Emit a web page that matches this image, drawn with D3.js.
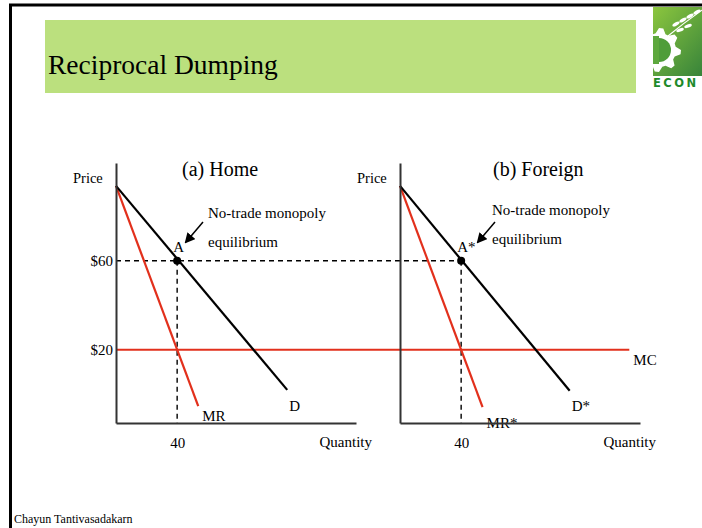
<!DOCTYPE html>
<html>
<head>
<meta charset="utf-8">
<script src="https://cdn.jsdelivr.net/npm/d3@7"></script>
<style>
  body { margin: 0; background: #fff; }
  svg text { font-family: "Liberation Serif", "Times New Roman", serif; fill: #000; }
</style>
</head>
<body>
<div id="chart"></div>
<script>
// values
const priceTicks = [60, 20];
const quantityTicks = [40];
const monopolyQ = 40;
const monopolyP = 60;
const mcPrice = 20;
const mcEndQ = 150; // MC runs on into the foreign panel
const demandHome = [[0, 93.7], [112, 1.9]];
const mrHome = [[0, 93.7], [53.8, -5.4]];
const demandForeign = [[0, 93.7], [111, 1.5]];
const mrForeign = [[0, 93.7], [54, -5.9]];
const panelTitles = ["(a) Home", "(b) Foreign"];

const width = 702;
const height = 528;
const red = "#e2301c";

const svg = d3.select("#chart")
  .append("svg")
  .attr("width", width)
  .attr("height", height);

// frame
svg.append("rect")
  .attr("x", 10.5).attr("y", 5)
  .attr("width", 800).attr("height", 600)
  .attr("fill", "none")
  .attr("stroke", "#000")
  .attr("stroke-width", 3);

// title bar
svg.append("rect")
  .attr("x", 45).attr("y", 20)
  .attr("width", 591).attr("height", 73)
  .attr("fill", "#bbe07e");

svg.append("text")
  .attr("x", 48).attr("y", 74)
  .attr("font-size", 27.5)
  .text("Reciprocal Dumping");

// logo
const defs = svg.append("defs");
const grad = defs.append("linearGradient")
  .attr("id", "logoGrad")
  .attr("x1", "0").attr("y1", "0").attr("x2", "1").attr("y2", "1");
grad.append("stop").attr("offset", "0%").attr("stop-color", "#8cc63e");
grad.append("stop").attr("offset", "100%").attr("stop-color", "#2f7d3a");
defs.append("clipPath").attr("id", "logoClip")
  .append("rect").attr("x", 653).attr("y", 7).attr("width", 60).attr("height", 69);

const logo = svg.append("g").attr("clip-path", "url(#logoClip)");
logo.append("rect")
  .attr("x", 653).attr("y", 7).attr("width", 60).attr("height", 69)
  .attr("fill", "url(#logoGrad)");

const gearCx = 659, gearCy = 50;
const teeth = 8;
const gearPts = [];
for (let i = 0; i < teeth * 4; i++) {
  const a = (i / (teeth * 4)) * 2 * Math.PI;
  const r = (i % 4 < 2) ? 22 : 17;
  gearPts.push([gearCx + r * Math.cos(a), gearCy + r * Math.sin(a)]);
}
logo.append("path")
  .attr("d", d3.line().curve(d3.curveLinearClosed)(gearPts))
  .attr("fill", "#fff");
logo.append("circle")
  .attr("cx", gearCx).attr("cy", gearCy).attr("r", 12)
  .attr("fill", "#4f9d3a");
logo.append("rect")
  .attr("x", 653).attr("y", 36).attr("width", 6).attr("height", 28)
  .attr("fill", "#5da83d");

const leaves = [[676, 24, -30], [683, 20, -30], [690, 16, -30], [697, 12, -30], [680, 30, -20], [688, 26, -20]];
logo.selectAll(".leaf")
  .data(leaves)
  .join("ellipse")
  .attr("class", "leaf")
  .attr("cx", d => d[0]).attr("cy", d => d[1])
  .attr("rx", 4).attr("ry", 1.6)
  .attr("transform", d => `rotate(${d[2]},${d[0]},${d[1]})`)
  .attr("fill", "#fff");
logo.append("path")
  .attr("d", "M668,36 Q685,22 705,8")
  .attr("stroke", "#fff").attr("stroke-width", 1.2).attr("fill", "none");

svg.append("text")
  .attr("x", 653).attr("y", 87)
  .attr("font-size", 11.5)
  .attr("font-weight", "bold")
  .attr("letter-spacing", 2.5)
  .style("font-family", "'DejaVu Sans', sans-serif")
  .style("fill", "#1e8a2a")
  .text("ECON");

// scales
const y = d3.scaleLinear().domain([-13, 104]).range([423, 163]);
const xHome = d3.scaleLinear().domain([0, 157]).range([116, 356]);
const xForeign = d3.scaleLinear().domain([0, 157]).range([400, 640]);

const arrowDefs = defs.append("marker")
  .attr("id", "arrow")
  .attr("viewBox", "0 0 10 10")
  .attr("refX", 8).attr("refY", 5)
  .attr("markerWidth", 7).attr("markerHeight", 7)
  .attr("orient", "auto-start-reverse");
arrowDefs.append("path").attr("d", "M0,0 L10,5 L0,10 z").attr("fill", "#000");

// MC and the shared dashed price line, drawn across both panels
svg.append("line")
  .attr("x1", xHome(0)).attr("x2", xForeign(mcEndQ))
  .attr("y1", y(mcPrice)).attr("y2", y(mcPrice))
  .attr("stroke", red).attr("stroke-width", 2);

svg.append("line")
  .attr("x1", xHome(0)).attr("x2", xForeign(monopolyQ))
  .attr("y1", y(monopolyP)).attr("y2", y(monopolyP))
  .attr("stroke", "#000").attr("stroke-width", 1.4)
  .attr("stroke-dasharray", "5,4");

const line = x => d3.line().x(d => x(d[0])).y(d => y(d[1]));

function drawPanel(x, demand, mr, opts) {
  const g = svg.append("g");

  g.append("line")
    .attr("x1", x(monopolyQ)).attr("x2", x(monopolyQ))
    .attr("y1", y(monopolyP)).attr("y2", y.range()[0])
    .attr("stroke", "#000").attr("stroke-width", 1.4)
    .attr("stroke-dasharray", "5,4");

  g.append("path")
    .attr("d", line(x)(mr))
    .attr("fill", "none").attr("stroke", red).attr("stroke-width", 2.2);

  g.append("path")
    .attr("d", line(x)(demand))
    .attr("fill", "none").attr("stroke", "#000").attr("stroke-width", 2.2);

  g.append("circle")
    .attr("cx", x(monopolyQ)).attr("cy", y(monopolyP)).attr("r", 4)
    .attr("fill", "#000");

  // MR label first so the axis line overlays it
  g.append("text")
    .attr("x", x(mr[1][0]) + 4).attr("y", opts.mrY)
    .attr("font-size", 15)
    .text(opts.mrLabel);

  const yAxis = g.append("g")
    .attr("transform", `translate(${x(0)},0)`)
    .call(d3.axisLeft(y)
      .tickValues(opts.showPrices ? priceTicks : [])
      .tickSize(0).tickSizeOuter(0).tickPadding(3)
      .tickFormat(d => `$${d}`));

  const xAxis = g.append("g")
    .attr("transform", `translate(0,${y.range()[0]})`)
    .call(d3.axisBottom(x)
      .tickValues(quantityTicks)
      .tickSize(0).tickSizeOuter(0).tickPadding(14));

  [yAxis, xAxis].forEach(ax => {
    ax.attr("font-family", null).attr("font-size", null);
    ax.select(".domain").attr("stroke", "#333").attr("stroke-width", 2);
    ax.selectAll("text").attr("font-size", 15).attr("fill", "#000");
  });

  g.append("text")
    .attr("x", x(0) - 43).attr("y", 183)
    .attr("font-size", 14.5)
    .text("Price");

  g.append("text")
    .attr("x", opts.titleX).attr("y", 176)
    .attr("font-size", 20)
    .text(opts.title);

  g.append("text")
    .attr("x", x(157) + 16).attr("y", 447)
    .attr("font-size", 15)
    .attr("text-anchor", "end")
    .text("Quantity");

  g.append("text")
    .attr("x", x(demand[1][0]) + 2).attr("y", 411)
    .attr("font-size", 15)
    .text(opts.dLabel);

  g.append("text")
    .attr("x", x(monopolyQ) - 4).attr("y", 252)
    .attr("font-size", 15)
    .text(opts.pointLabel);

  g.append("text")
    .attr("x", x(0) + 92).attr("y", opts.noteY)
    .attr("font-size", 15)
    .text("No-trade monopoly");

  g.append("text")
    .attr("x", x(0) + 92).attr("y", opts.noteY + 29)
    .attr("font-size", 15)
    .text("equilibrium");

  g.append("line")
    .attr("x1", x(0) + 87 + opts.arrowDx).attr("y1", 222)
    .attr("x2", x(0) + 70 + opts.arrowDx).attr("y2", 242)
    .attr("stroke", "#000").attr("stroke-width", 1.5)
    .attr("marker-end", "url(#arrow)");
}

drawPanel(xHome, demandHome, mrHome, {
  title: panelTitles[0], titleX: 182, showPrices: true,
  mrLabel: "MR", mrY: 421, dLabel: "D", pointLabel: "A",
  noteY: 218, arrowDx: 0
});

drawPanel(xForeign, demandForeign, mrForeign, {
  title: panelTitles[1], titleX: 493, showPrices: false,
  mrLabel: "MR*", mrY: 428, dLabel: "D*", pointLabel: "A*",
  noteY: 215, arrowDx: 8
});

svg.append("text")
  .attr("x", xForeign(mcEndQ) + 4).attr("y", 365)
  .attr("font-size", 15)
  .text("MC");

svg.append("text")
  .attr("x", 14).attr("y", 523)
  .attr("font-size", 12)
  .text("Chayun Tantivasadakarn");
</script>
</body>
</html>
